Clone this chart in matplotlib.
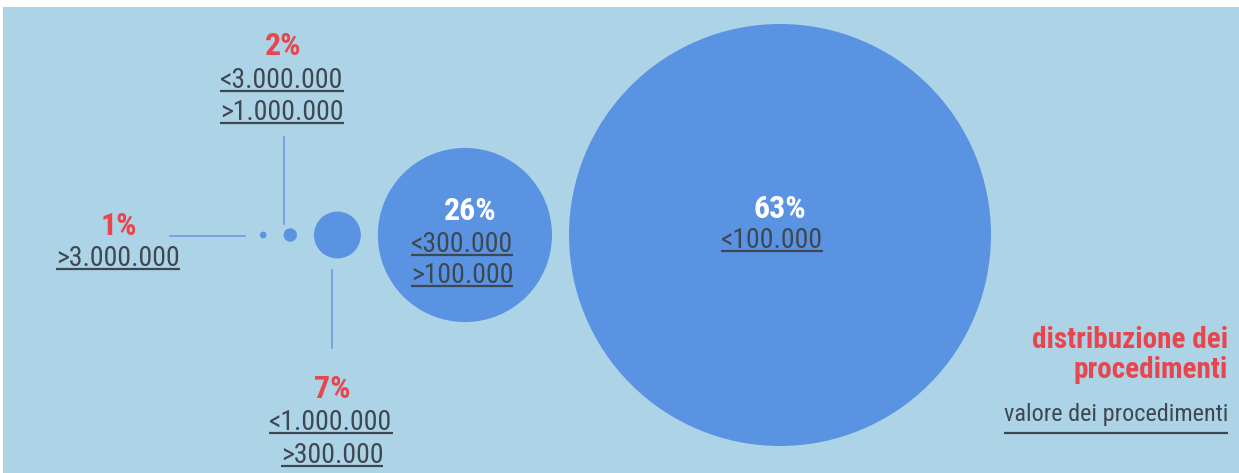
import matplotlib
matplotlib.use('Agg')
import matplotlib.pyplot as plt
from matplotlib.patches import Circle, Rectangle
from matplotlib import font_manager as fm

# ---- data ----
pcts = [1, 2, 7, 26, 63]
pct_labels = ['1%', '2%', '7%', '26%', '63%']
range_labels = [
    ['>3.000.000'],
    ['<3.000.000', '>1.000.000'],
    ['<1.000.000', '>300.000'],
    ['<300.000', '>100.000'],
    ['<100.000'],
]
title_lines = ['distribuzione dei', 'procedimenti']
subtitle = 'valore dei procedimenti'

# ---- style ----
BG = '#add3e6'
CIRCLE = '#5b93e3'
RED = '#e8464e'
DARK = '#3e4852'
LINE = '#6e9be0'
WHITE = '#ffffff'

avail = {f.name for f in fm.fontManager.ttflist}
FAM = next((f for f in ['Liberation Sans Narrow', 'DejaVu Sans Condensed',
                        'Roboto Condensed', 'Liberation Sans'] if f in avail),
           'DejaVu Sans')

W, H = 1239, 473
fig = plt.figure(figsize=(W / 100, H / 100), dpi=100)
fig.patch.set_facecolor('white')
ax = fig.add_axes([0, 0, 1, 1])
ax.set_xlim(0, W)
ax.set_ylim(H, 0)
ax.set_aspect('equal')
ax.axis('off')
ax.add_patch(Rectangle((3, 7), W - 3, H - 7, facecolor=BG, edgecolor='none', zorder=0))

# circles: radius proportional to percentage, laid out right-to-left with equal gaps
k = 211 / 63.0
gap = 17
cy = 235
radii = [p * k for p in pcts]
cx = [0] * len(pcts)
cx[-1] = 780
for i in range(len(pcts) - 2, -1, -1):
    cx[i] = cx[i + 1] - radii[i + 1] - gap - radii[i]
for x, r in zip(cx, radii):
    ax.add_patch(Circle((x, cy), r, facecolor=CIRCLE, edgecolor='none', zorder=2))

# leader lines
ax.plot([170, cx[0] - 18], [236, 236], color=LINE, lw=1.2, zorder=1)
ax.plot([284, 284], [137, 224], color=LINE, lw=1.2, zorder=1)
ax.plot([332, 332], [270, 348], color=LINE, lw=1.2, zorder=1)

underline_items = []

def txt(x, y, s, color, size, weight='normal', ha='center', underline=None):
    t = ax.text(x, y, s, color=color, fontsize=size, fontweight=weight,
                family=FAM, ha=ha, va='baseline', zorder=5)
    if underline is not None:
        underline_items.append((t, y + underline))
    return t

PCT_SIZE = 23
RNG_SIZE = 20

# label layout: (pct x, pct baseline, color, [(range x, range baseline), ...])
layout = [
    (119, 235, RED, [(118, 266)]),
    (283, 55, RED, [(282, 88), (282, 120)]),
    (332, 398, RED, [(331, 430), (332, 463)]),
    (470, 220, WHITE, [(462, 252), (462, 283)]),
    (780, 218, WHITE, [(772, 248)]),
]
for (px, py, col, rpos), pl, rl in zip(layout, pct_labels, range_labels):
    txt(px, py, pl, col, PCT_SIZE, weight='bold')
    for (rx, ry), s in zip(rpos, rl):
        txt(rx, ry, s, DARK, RNG_SIZE, underline=3)

# title block (right aligned)
txt(1228, 348, title_lines[0], RED, 21, weight='bold', ha='right')
txt(1228, 378, title_lines[1], RED, 21, weight='bold', ha='right')
txt(1228, 421, subtitle, DARK, 17.5, ha='right', underline=12)

# underlines from measured text extents
fig.canvas.draw()
renderer = fig.canvas.get_renderer()
inv = ax.transData.inverted()
for t, uy in underline_items:
    bb = t.get_window_extent(renderer)
    (x0, _), (x1, _) = inv.transform([[bb.x0, bb.y0], [bb.x1, bb.y1]])
    ax.plot([x0, x1], [uy, uy], color=DARK, lw=1.6, zorder=5, solid_capstyle='butt')

fig.savefig('out.png', dpi=100, facecolor=fig.get_facecolor())
